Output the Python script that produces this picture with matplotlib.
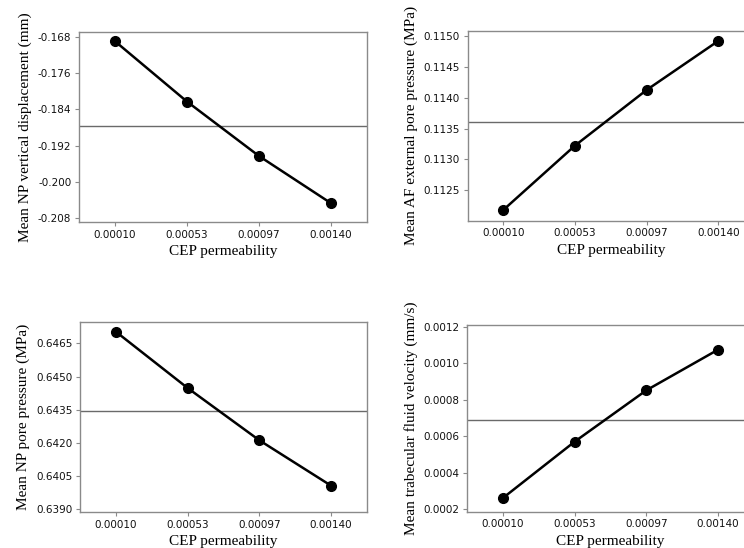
import numpy as np
import matplotlib
matplotlib.use("Agg")
import matplotlib.pyplot as plt

# CEP permeability levels (categorical x axis)
levels = ["0.00010", "0.00053", "0.00097", "0.00140"]

# Mean responses at each permeability level
np_disp = [-0.1690, -0.1823, -0.1943, -0.2047]
af_pore = [0.112182, 0.113224, 0.114125, 0.114919]
np_pore = [0.647024, 0.644480, 0.642117, 0.640066]
trab_vel = [0.000260, 0.000569, 0.000851, 0.001074]

labels = [
    "Mean NP vertical displacement (mm)",
    "Mean AF external pore pressure (MPa)",
    "Mean NP pore pressure (MPa)",
    "Mean trabecular fluid velocity (mm/s)",
]

yticks = [
    [-0.168, -0.176, -0.184, -0.192, -0.200, -0.208],
    [0.1150, 0.1145, 0.1140, 0.1135, 0.1130, 0.1125],
    [0.6465, 0.6450, 0.6435, 0.6420, 0.6405, 0.6390],
    [0.0012, 0.0010, 0.0008, 0.0006, 0.0004, 0.0002],
]
yfmt = ["{:.3f}", "{:.4f}", "{:.4f}", "{:.4f}"]
ylims = [
    (-0.20884, -0.16696),
    (0.112008, 0.115081),
    (0.638865, 0.647449),
    (0.000185, 0.001209),
]

W, H = 744, 548
fig = plt.figure(figsize=(W / 100, H / 100), dpi=100)

# axes boxes in pixel coordinates: left, top, right, bottom
boxes = [
    (79, 32, 367, 222),
    (467.5, 31, 754, 220.7),
    (80, 322.3, 367, 512.3),
    (467, 325, 754, 511.7),
]

series = [np_disp, af_pore, np_pore, trab_vel]
spine_col = "#8a8a8a"

for (l, t, r, b), vals, lab, ytk, fmt, yl in zip(boxes, series, labels, yticks, yfmt, ylims):
    ax = fig.add_axes([l / W, 1 - b / H, (r - l) / W, (b - t) / H])
    x = np.arange(len(levels))
    ax.axhline(np.mean(vals), color="#6a6a6a", lw=1.0, zorder=1)
    ax.plot(x, vals, color="black", lw=1.8, marker="o", ms=7, zorder=3)
    ax.set_xlim(-0.5, len(levels) - 0.5)
    ax.set_ylim(*yl)
    ax.set_xticks(x)
    ax.set_xticklabels(levels, fontsize=7.5, family="DejaVu Sans", color="#111111")
    ax.set_yticks(ytk)
    ax.set_yticklabels([fmt.format(v) for v in ytk], fontsize=7.5, family="DejaVu Sans",
                       color="#111111")
    ax.tick_params(direction="out", length=3, width=0.8, color=spine_col, pad=2.5)
    for s in ax.spines.values():
        s.set_color(spine_col)
        s.set_linewidth(1.0)
    ax.set_xlabel("CEP permeability", fontsize=11, family="Liberation Serif", labelpad=4)
    ax.set_ylabel(lab, fontsize=11, family="Liberation Serif", labelpad=4)

fig.savefig("out.png", dpi=100)
